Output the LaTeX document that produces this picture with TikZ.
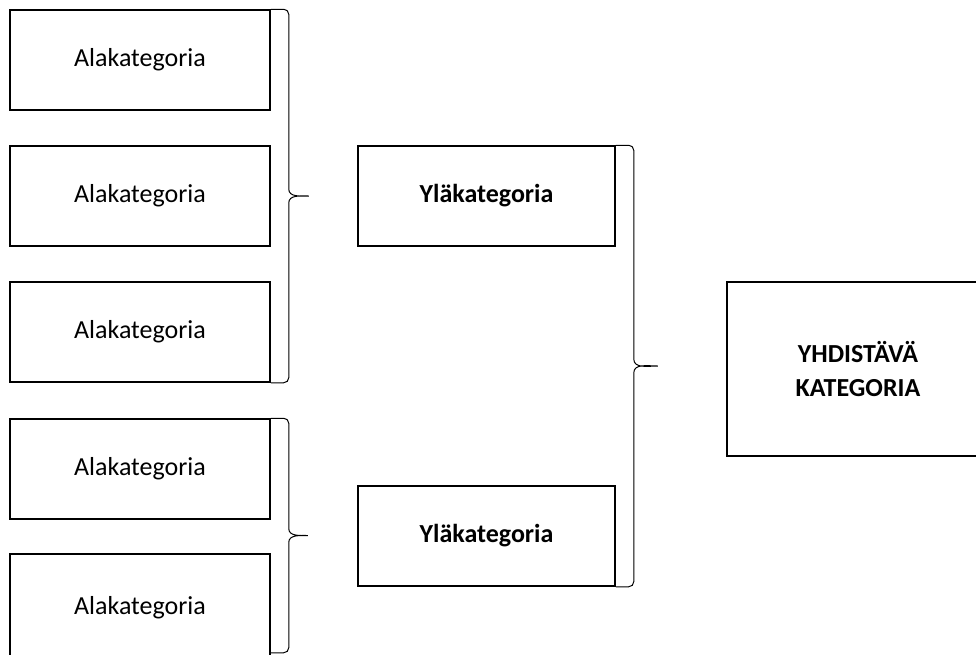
\documentclass[tikz,border=0pt]{standalone}
\usepackage{fontspec}
\setmainfont{Carlito}
\usetikzlibrary{calc}
\begin{document}
\begin{tikzpicture}
  [x=1pt,y=-1pt,every node/.style={draw,line width=1.5pt,align=center,font=\fontsize{26}{34}\selectfont}]
  \tikzstyle{ala} = [minimum width=260pt,minimum height=100pt]
  \tikzstyle{yla} = [minimum width=257pt,minimum height=100pt,font=\fontsize{26}{34}\selectfont\bfseries]
  \tikzstyle{yhd} = [minimum width=262pt,minimum height=174pt,font=\fontsize{26}{34}\selectfont\bfseries]
  \tikzstyle{sulje} = [line width=1pt]
  \useasboundingbox (0,0) rectangle (976,654);
  \node[ala] (a1) at (140,60)  {Alakategoria};
  \node[ala] (a2) at (140,196) {Alakategoria};
  \node[ala] (a3) at (140,332) {Alakategoria};
  \node[ala] (a4) at (140,469) {Alakategoria};
  \node[ala,minimum height=108pt] (a5) at (140,608) {Alakategoria};
  \node[yla] (y1) at (486.5,196) {Yläkategoria};
  \node[yla] (y2) at (486.5,536) {Yläkategoria};
  \node[yhd] (k) at (858,369) {YHDISTÄVÄ\\KATEGORIA};

\foreach \ylin /\alin /\karki /\loppu in {a1/a3/38pt/0pt,a4/a5/37pt/10pt,y1/y2/42pt/0pt}
   \draw[sulje] let \p1=(\ylin.north east), \p2=($(\alin.south east)+(0,\loppu)$), \p3=($(\p1)!.5!(\p2)$) in
     (\p1) -- (\x1+13pt,\y1) to[out=0,in=90] (\x1+18pt,\y1-5pt) -- (\x1+18pt,\y3+7pt)
     to[out=-90,in=180] (\x1+\karki,\y3) to[out=180,in=90] (\x1+18pt,\y3-7pt)
     -- (\x1+18pt,\y2+5pt) to[out=-90,in=0] (\x1+13pt,\y2) -- (\p2);

\end{tikzpicture}
\end{document}
